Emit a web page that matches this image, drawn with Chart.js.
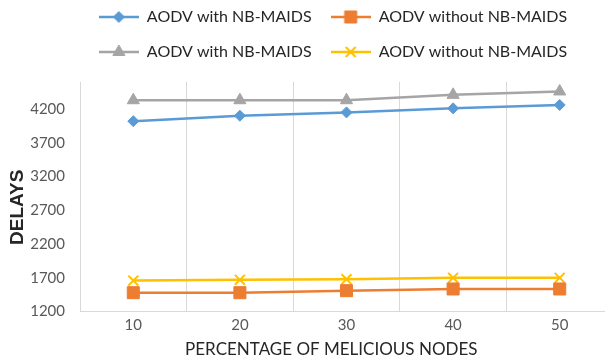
<!DOCTYPE html>
<html>
<head>
<meta charset="utf-8">
<script src="https://cdn.jsdelivr.net/npm/chart.js@4.4.1/dist/chart.umd.min.js"></script>
<style>
  html, body { margin: 0; padding: 0; overflow: hidden; background: #fff; }
  #wrap { width: 666px; height: 360px; position: relative; }
</style>
</head>
<body>
<div id="wrap"><canvas id="delayChart"></canvas></div>
<script>
const categories = ["10", "20", "30", "40", "50"];
const withBlue = [4020, 4100, 4150, 4210, 4260];
const withoutOrange = [1480, 1480, 1510, 1535, 1535];
const withGrey = [4330, 4330, 4330, 4410, 4460];
const withoutYellow = [1660, 1670, 1680, 1700, 1700];
const yTicks = [1200, 1700, 2200, 2700, 3200, 3700, 4200];

const seriesStyle = [
  { label: "AODV with NB-MAIDS", data: withBlue, color: "#5b9bd5", style: "rectRot", radius: 5.5 },
  { label: "AODV without NB-MAIDS", data: withoutOrange, color: "#ed7d31", style: "rect", radius: 8.5 },
  { label: "AODV with NB-MAIDS", data: withGrey, color: "#a5a5a5", style: "triangle", radius: 7 },
  { label: "AODV without NB-MAIDS", data: withoutYellow, color: "#ffc000", style: "crossRot", radius: 7 },
];

// legend icon = short line with the marker in the middle
const makeIcon = (s) => {
  const c = document.createElement("canvas");
  c.width = 40;
  c.height = 18;
  const g = c.getContext("2d");
  g.strokeStyle = s.color;
  g.fillStyle = s.color;
  g.lineWidth = 2.5;
  g.beginPath();
  g.moveTo(0, 9);
  g.lineTo(40, 9);
  g.stroke();
  g.lineWidth = s.style === "crossRot" ? 2 : 1;
  Chart.helpers.drawPoint(g, { pointStyle: s.style, radius: s.radius, borderWidth: g.lineWidth, rotation: 0 }, 20, 9);
  return c;
};
const legendIcons = seriesStyle.map(makeIcon);

// push the plot down a bit below the legend
const legendGap = {
  id: "legendGap",
  beforeInit(chart) {
    const fit = chart.legend.fit;
    chart.legend.fit = function () {
      fit.bind(chart.legend)();
      this.height += 12;
    };
  },
};

const chartData = {
  labels: categories,
  datasets: seriesStyle.map((s) => ({
    label: s.label,
    data: s.data,
    borderColor: s.color,
    backgroundColor: s.color,
    borderWidth: 2.5,
    pointStyle: s.style,
    pointRadius: s.radius,
    pointHoverRadius: s.radius,
    pointBorderWidth: s.style === "crossRot" ? 2 : 1,
    tension: 0,
  })),
};

const config = {
  type: "line",
  data: chartData,
  plugins: [legendGap],
  options: {
    responsive: true,
    maintainAspectRatio: false,
    animation: false,
    layout: { padding: { top: -10, left: 0, right: 0, bottom: 0 } },
    plugins: {
      tooltip: { enabled: false },
      legend: {
        position: "top",
        labels: {
          usePointStyle: true,
          pointStyleWidth: 40,
          padding: 19,
          color: "#262626",
          font: { family: "Lato", size: 16 },
          generateLabels: (chart) =>
            Chart.defaults.plugins.legend.labels
              .generateLabels(chart)
              .map((it, i) => ({ ...it, pointStyle: legendIcons[i] })),
        },
      },
    },
    scales: {
      x: {
        offset: true,
        grid: { color: "#d9d9d9", offset: true, drawTicks: false },
        border: { color: "#d9d9d9" },
        ticks: { color: "#595959", padding: 5, font: { family: "Lato", size: 15 } },
        title: {
          display: true,
          // trailing spaces nudge the title left, as in the original
          text: "PERCENTAGE OF MELICIOUS NODES       ",
          color: "#262626",
          padding: { top: 0, bottom: 0 },
          font: { family: "Lato", size: 17 },
        },
      },
      y: {
        min: 1200,
        max: 4600,
        afterBuildTicks: (s) => { s.ticks = yTicks.map((v) => ({ value: v })); },
        afterFit: (s) => { s.width = 80; },
        grid: { display: false },
        border: { display: true, color: "#d9d9d9" },
        ticks: {
          color: "#595959",
          padding: 7,
          font: { family: "Lato", size: 15 },
          callback: (v) => String(v),
        },
        title: {
          display: true,
          text: "DELAYS    ",
          color: "#262626",
          padding: { top: 6, bottom: 0 },
          font: { family: "Liberation Sans", size: 19, weight: "bold" },
        },
      },
      // spare room on the right so the plot runs past the visible edge
      yPad: {
        position: "right",
        display: true,
        grid: { display: false },
        border: { display: false },
        ticks: { display: false },
        afterFit: (s) => { s.width = 53; },
      },
    },
  },
};

let delayChart;
const cntx = document.getElementById("delayChart").getContext("2d");
if (delayChart) delayChart.destroy();
delayChart = new Chart(cntx, config);
</script>
</body>
</html>
